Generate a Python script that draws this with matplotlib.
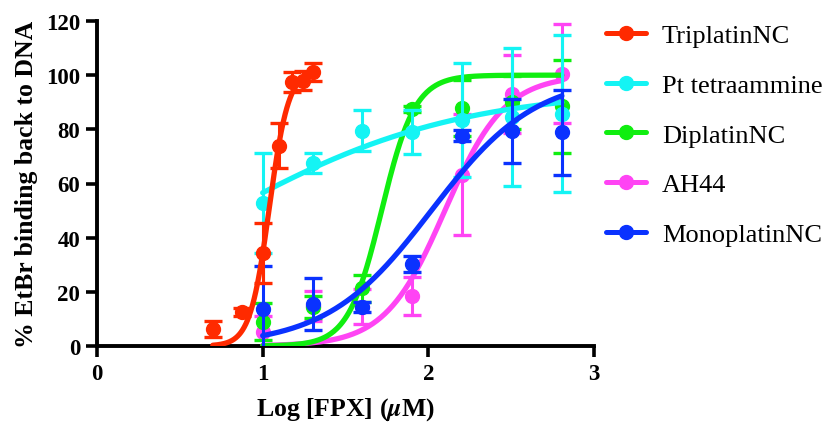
import numpy as np
import matplotlib
matplotlib.use("Agg")
import matplotlib.pyplot as plt
from matplotlib.lines import Line2D

plt.rcParams['font.family'] = ['Liberation Serif', 'DejaVu Serif']
plt.rcParams['mathtext.fontset'] = 'stix'

# ---- data -------------------------------------------------------------
series_names = ['TriplatinNC', 'Pt tetraammine', 'DiplatinNC', 'AH44', 'MonoplatinNC']
series_colors = ['#FF2A00', '#14F4F4', '#10EE10', '#FF44F4', '#0A32FF']

# log10 of concentration (uM)
log_conc_tri = [0.699, 0.875, 1.0, 1.097, 1.176, 1.243, 1.301]
log_conc = [1.0, 1.301, 1.602, 1.903, 2.204, 2.505, 2.806]

tri_mean = [6.3, 12.6, 34.3, 74.0, 97.5, 98.0, 101.2]
tri_err = [2.8, 1.5, 11.0, 8.3, 3.7, 3.5, 3.3]

tetra_mean = [52.8, 67.5, 79.5, 79.0, 83.4, 84.6, 85.8]
tetra_err = [18.5, 3.8, 7.5, 8.1, 21.0, 25.5, 29.0]

di_mean = [8.9, 14.5, 21.4, 87.5, 87.9, 90.0, 88.5]
di_err = [6.8, 4.0, 5.0, 1.0, 10.3, 9.7, 17.2]

ah44_mean = [5.0, 14.8, 14.5, 18.5, 63.2, 93.0, 100.6]
ah44_err = [6.0, 5.5, 6.5, 7.0, 22.3, 14.4, 18.3]

mono_mean = [13.7, 15.5, 14.4, 30.3, 77.6, 79.4, 78.9]
mono_err = [15.7, 9.5, 2.0, 3.0, 2.0, 11.8, 15.7]

# sigmoidal dose-response fits: (bottom, top, logEC50, hill slope)
tri_fit = (0.0, 102.0, 1.04, 7.5)
tetra_fit = (0.0, 95.0, 0.72, 0.6)
di_fit = (0.0, 100.0, 1.718, 4.3)
ah44_fit = (0.0, 100.0, 2.10, 2.4)
mono_fit = (0.0, 100.0, 2.018, 1.375)

x_ticks = [0, 1, 2, 3]
y_ticks = [0, 20, 40, 60, 80, 100, 120]


def dose_response(x, bottom, top, logec50, hill):
    return bottom + (top - bottom) / (1.0 + 10 ** ((logec50 - x) * hill))


# ---- figure -----------------------------------------------------------
fig = plt.figure(figsize=(8.28, 4.27), dpi=100)
ax = fig.add_axes([97 / 828, 1 - 347 / 427, 497 / 828, 325 / 427])

datasets = [
    (log_conc_tri, tri_mean, tri_err, tri_fit),
    (log_conc, tetra_mean, tetra_err, tetra_fit),
    (log_conc, di_mean, di_err, di_fit),
    (log_conc, ah44_mean, ah44_err, ah44_fit),
    (log_conc, mono_mean, mono_err, mono_fit),
]
zorders = [10, 6, 5, 4, 8]

handles = []
for (xs, ys, es, fit), name, col, z in zip(datasets, series_names, series_colors, zorders):
    xs = np.asarray(xs)
    xf = np.linspace(xs.min(), xs.max(), 300)
    ax.plot(xf, dose_response(xf, *fit), color=col, lw=3.8, zorder=z,
            solid_capstyle='round')
    ax.errorbar(xs, ys, yerr=es, fmt='o', color=col, ms=10, elinewidth=2.2,
                capsize=6.5, capthick=2.4, zorder=z + 0.5)
    handles.append(Line2D([], [], color=col, lw=3.6, marker='o', ms=10,
                          solid_capstyle='round', label=name))

ax.set_xlim(0, 3)
ax.set_ylim(0, 120)
ax.set_xticks(x_ticks)
ax.set_yticks(y_ticks)
for s in ['top', 'right']:
    ax.spines[s].set_visible(False)
for s in ['left', 'bottom']:
    ax.spines[s].set_linewidth(2.8)
ax.tick_params(axis='both', direction='out', length=8, width=2.6,
               labelsize=16.5, pad=4)
for lbl in ax.get_xticklabels() + ax.get_yticklabels():
    lbl.set_fontweight('bold')

fig.text(27 / 828, 1 - 184 / 427, '% EtBr binding back to DNA', rotation=90,
         ha='center', va='center', fontsize=18.5, fontweight='bold')
fig.text(345 / 828, 1 - 410 / 427, r'Log [FPX] ($\mathbfit{\mu}$M)',
         ha='center', va='center', fontsize=18.5, fontweight='bold')

fig.legend(handles=handles, loc='upper left',
           bbox_to_anchor=(606 / 828, 1 - 25 / 427), frameon=False,
           fontsize=19, handlelength=1.5, handletextpad=0.62,
           labelspacing=0.99, borderpad=0, borderaxespad=0)

fig.savefig('out.png', dpi=100)
